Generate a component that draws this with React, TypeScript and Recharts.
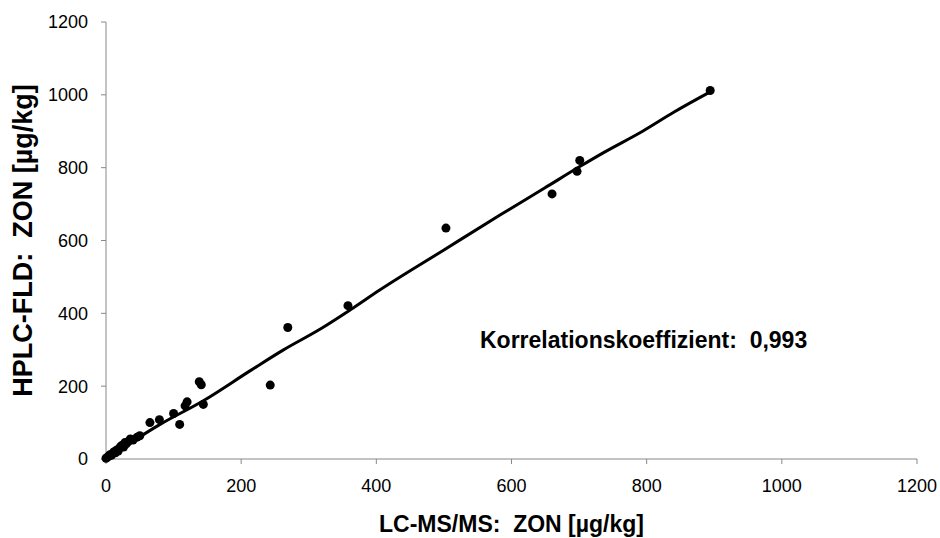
import {
  ComposedChart,
  Line,
  Scatter,
  XAxis,
  YAxis,
  Label,
} from "recharts";

// LC-MS/MS values (x) vs HPLC-FLD values (y), µg/kg
const lcmsValues = [
  0, 2, 4, 6, 8, 10, 12, 14, 16, 18, 20, 22, 24, 26, 28, 30, 33, 36, 40, 46, 50,
  65, 79, 100, 109, 117, 120, 138, 141, 144, 243, 269, 358, 503, 660, 697, 701, 894,
];
const hplcValues = [
  2, 5, 8, 12, 10, 15, 20, 17, 25, 22, 30, 35, 38, 33, 45, 42, 48, 55, 52, 60, 64,
  100, 108, 125, 95, 146, 157, 212, 204, 150, 203, 361, 421, 634, 728, 790, 820, 1012,
];

// smoothed fit line
const fitX = [0, 80, 144, 213, 262, 319, 361, 405, 500, 583, 649, 701, 735, 794, 840, 896];
const fitY = [0, 95, 160, 242, 299, 359, 409, 464, 574, 670, 744, 803, 840, 900, 952, 1010];

const axisTicks = [0, 200, 400, 600, 800, 1000, 1200];

const points = lcmsValues.map((x, i) => ({ x, y: hplcValues[i] }));
const fitRows = fitX.map((x, i) => ({ x, fit: fitY[i] }));

const FONT = "'Liberation Sans', Arial, sans-serif";
const SP = "\u00a0";

export default function App() {
  return (
    <div
      style={{
        position: "absolute",
        left: 0,
        top: 0,
        width: 940,
        height: 538,
        background: "#fff",
        fontFamily: FONT,
      }}
    >
      <ComposedChart
        width={940}
        height={538}
        data={fitRows}
        margin={{ top: 22, right: 23, bottom: 0, left: 0 }}
      >
        <XAxis
          dataKey="x"
          type="number"
          domain={[0, 1200]}
          ticks={axisTicks}
          height={79}
          tickSize={5}
          tickMargin={15}
          stroke="#888"
          tick={{ fill: "#000", fontSize: 18, fontFamily: FONT }}
        >
          <Label
            value={`LC-MS/MS:${SP}${SP}ZON [µg/kg]`}
            position="insideBottom"
            offset={6}
            style={{ fill: "#000", fontSize: 23, fontWeight: 700, fontFamily: FONT }}
          />
        </XAxis>
        <YAxis
          type="number"
          domain={[0, 1200]}
          ticks={axisTicks}
          width={106}
          tickSize={5}
          tickMargin={13}
          stroke="#888"
          tick={{ fill: "#000", fontSize: 18, fontFamily: FONT }}
        >
          <Label
            value={`HPLC-FLD:${SP}${SP}ZON [µg/kg]`}
            angle={-90}
            position="insideLeft"
            offset={22}
            style={{
              fill: "#000",
              fontSize: 27,
              fontWeight: 700,
              fontFamily: FONT,
              textAnchor: "middle",
            }}
          />
        </YAxis>
        <Line
          dataKey="fit"
          type="monotone"
          stroke="#000"
          strokeWidth={3}
          dot={false}
          isAnimationActive={false}
        />
        <Scatter
          data={points}
          dataKey="y"
          fill="#000"
          shape={(p: any) => <circle cx={p.cx} cy={p.cy} r={4.5} fill="#000" />}
          isAnimationActive={false}
        />
      </ComposedChart>
      <div
        style={{
          position: "absolute",
          left: 480,
          top: 326,
          fontSize: 23,
          fontWeight: 700,
          color: "#000",
          whiteSpace: "pre",
          lineHeight: "28px",
        }}
      >
        {"Korrelationskoeffizient:  0,993"}
      </div>
    </div>
  );
}
